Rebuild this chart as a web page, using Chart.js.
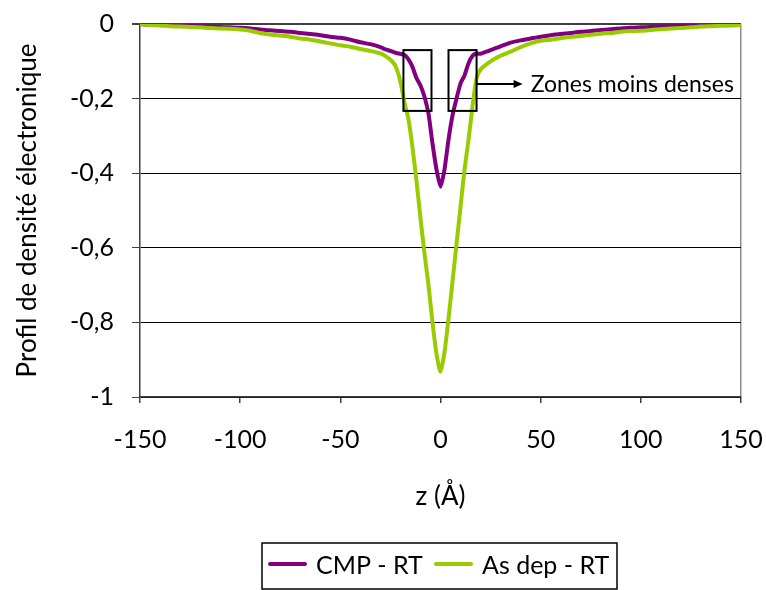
<!DOCTYPE html>
<html>
<head>
<meta charset="utf-8">
<script src="https://cdn.jsdelivr.net/npm/chart.js@4/dist/chart.umd.min.js"></script>
<style>
  html, body { margin: 0; padding: 0; background: #fff; }
  #wrap { width: 766px; height: 590px; }
</style>
</head>
<body>
<div id="wrap"><canvas id="chart" width="766" height="590"></canvas></div>
<script>
// z positions (Å)
const zValues = [
  -150, -145, -140, -135, -130, -125, -120, -115, -110, -105,
  -100, -95, -90, -85, -80, -75, -70, -65, -60, -55,
  -50, -45, -40, -35, -30, -27.5, -25, -22.5, -20, -18,
  -16, -14, -12, -10, -8, -6, -4, -2, 0, 2,
  4, 6, 8, 10, 12, 14, 16, 18, 20, 22.5,
  25, 27.5, 30, 35, 40, 45, 50, 55, 60, 65,
  70, 75, 80, 85, 90, 95, 100, 105, 110, 115,
  120, 125, 130, 135, 140, 145, 150
];

// CMP - RT
const cmpValues = [
  0, -0.002, -0.003, -0.003, -0.004, -0.005, -0.005, -0.007, -0.008, -0.009,
  -0.010, -0.012, -0.015, -0.017, -0.019, -0.021, -0.024, -0.027, -0.030, -0.034,
  -0.037, -0.042, -0.049, -0.054, -0.062, -0.068, -0.072, -0.077, -0.080, -0.083,
  -0.095, -0.115, -0.145, -0.165, -0.195, -0.240, -0.320, -0.390, -0.436, -0.390,
  -0.310, -0.245, -0.200, -0.159, -0.138, -0.105, -0.085, -0.079, -0.080, -0.075,
  -0.070, -0.065, -0.060, -0.050, -0.044, -0.039, -0.034, -0.030, -0.027, -0.024,
  -0.021, -0.019, -0.016, -0.014, -0.012, -0.010, -0.009, -0.008, -0.007, -0.006,
  -0.005, -0.004, -0.003, -0.003, -0.002, -0.002, -0.001
];

// As dep - RT
const asDepValues = [
  0, -0.003, -0.004, -0.006, -0.007, -0.008, -0.009, -0.011, -0.012, -0.013,
  -0.015, -0.018, -0.024, -0.028, -0.031, -0.034, -0.039, -0.042, -0.047, -0.052,
  -0.057, -0.061, -0.067, -0.072, -0.079, -0.086, -0.096, -0.112, -0.155, -0.210,
  -0.255, -0.330, -0.420, -0.520, -0.615, -0.700, -0.800, -0.885, -0.932, -0.880,
  -0.790, -0.690, -0.590, -0.490, -0.390, -0.310, -0.220, -0.145, -0.122, -0.110,
  -0.100, -0.092, -0.085, -0.074, -0.062, -0.052, -0.045, -0.042, -0.038, -0.035,
  -0.032, -0.029, -0.026, -0.024, -0.021, -0.019, -0.018, -0.016, -0.014, -0.012,
  -0.011, -0.009, -0.007, -0.006, -0.005, -0.004, -0.002
];

const seriesLabels = ['CMP - RT', 'As dep - RT'];
const xTickValues = [-150, -100, -50, 0, 50, 100, 150];
const xTickLabels = ['-150', '-100', '-50', '0', '50', '100', '150'];
const yTickValues = [0, -0.2, -0.4, -0.6, -0.8, -1];
const yTickLabels = ['0', '-0,2', '-0,4', '-0,6', '-0,8', '-1'];
const xTitle = 'z (Å)';
const yTitle = 'Profil de densité électronique';
const noteText = 'Zones moins denses';

const FONT = 'Lato, "Open Sans", sans-serif';
const purple = '#800080';
const green = '#99cc00';

// the two "less dense" boxes, in data units
const zoneBoxes = [
  { zMin: -18.5, zMax: -4.5, vTop: -0.07, vBottom: -0.233 },
  { zMin: 4, zMax: 18, vTop: -0.07, vBottom: -0.233 }
];
const arrowLevel = -0.161;
const arrowEndZ = 41;
const noteZ = 45;

function points(values) {
  return zValues.map((z, i) => ({ x: z, y: values[i] }));
}

const annotationPlugin = {
  id: 'zones',
  afterDatasetsDraw(chart) {
    const { ctx, scales: { x, y } } = chart;
    ctx.save();
    ctx.strokeStyle = '#000';
    ctx.lineWidth = 2;
    zoneBoxes.forEach(b => {
      const x0 = x.getPixelForValue(b.zMin);
      const x1 = x.getPixelForValue(b.zMax);
      const y0 = y.getPixelForValue(b.vTop);
      const y1 = y.getPixelForValue(b.vBottom);
      ctx.strokeRect(x0, y0, x1 - x0, y1 - y0);
    });
    const ay = y.getPixelForValue(arrowLevel);
    const ax0 = x.getPixelForValue(zoneBoxes[1].zMax);
    const ax1 = x.getPixelForValue(arrowEndZ);
    ctx.beginPath();
    ctx.moveTo(ax0, ay);
    ctx.lineTo(ax1 - 6, ay);
    ctx.stroke();
    ctx.fillStyle = '#000';
    ctx.beginPath();
    ctx.moveTo(ax1, ay);
    ctx.lineTo(ax1 - 9, ay - 4);
    ctx.lineTo(ax1 - 9, ay + 4);
    ctx.closePath();
    ctx.fill();
    ctx.font = '23px ' + FONT;
    ctx.textAlign = 'left';
    ctx.textBaseline = 'middle';
    ctx.fillText(noteText, x.getPixelForValue(noteZ), ay + 1);
    ctx.restore();
  }
};

const boxLegendPlugin = {
  id: 'boxLegend',
  afterDraw(chart) {
    const ctx = chart.ctx;
    const ds = chart.data.datasets;
    ctx.save();
    ctx.strokeStyle = '#000';
    ctx.lineWidth = 1.5;
    ctx.strokeRect(262, 543, 355, 46);
    ctx.font = '25px ' + FONT;
    ctx.textBaseline = 'middle';
    ctx.textAlign = 'left';
    const items = [
      { ds: ds[0], x: 270 },
      { ds: ds[1], x: 436 }
    ];
    items.forEach(it => {
      ctx.strokeStyle = it.ds.borderColor;
      ctx.lineWidth = 4;
      ctx.lineCap = 'round';
      ctx.beginPath();
      ctx.moveTo(it.x, 564);
      ctx.lineTo(it.x + 35, 564);
      ctx.stroke();
      ctx.fillStyle = '#000';
      ctx.fillText(it.ds.label, it.x + 46, 566);
    });
    ctx.restore();
  }
};

new Chart(document.getElementById('chart').getContext('2d'), {
  type: 'line',
  data: {
    datasets: [
      {
        label: seriesLabels[0],
        data: points(cmpValues),
        borderColor: purple,
        borderWidth: 4,
        pointRadius: 0,
        tension: 0.2,
        order: 1
      },
      {
        label: seriesLabels[1],
        data: points(asDepValues),
        borderColor: green,
        borderWidth: 4,
        pointRadius: 0,
        tension: 0.2,
        order: 0
      }
    ]
  },
  options: {
    responsive: false,
    devicePixelRatio: 1,
    animation: false,
    layout: { padding: { top: 24, right: 25, left: 0, bottom: 73 } },
    plugins: {
      legend: { display: false },
      tooltip: { enabled: false }
    },
    scales: {
      x: {
        type: 'linear',
        min: -150,
        max: 150,
        afterBuildTicks: s => { s.ticks = xTickValues.map(v => ({ value: v })); },
        afterFit: s => { s.height = 120; s.paddingLeft = 0; s.paddingRight = 0; },
        ticks: {
          font: { family: FONT, size: 25 },
          color: '#000',
          padding: 22,
          maxRotation: 0,
          callback: (v, i) => xTickLabels[i]
        },
        grid: {
          color: c => (c.tick && c.tick.value === 150 ? '#8c8c8c' : 'rgba(0,0,0,0)'),
          tickColor: '#404040',
          tickLength: 6,
          lineWidth: 1.5
        },
        border: { color: '#404040', width: 1.5 },
        title: {
          display: true,
          text: xTitle,
          font: { family: FONT, size: 26 },
          color: '#000',
          padding: { top: 0, bottom: 5 }
        }
      },
      y: {
        min: -1,
        max: 0,
        afterBuildTicks: s => { s.ticks = yTickValues.map(v => ({ value: v })); },
        afterFit: s => { s.width = 140; s.paddingTop = 0; s.paddingBottom = 0; },
        ticks: {
          font: { family: FONT, size: 25 },
          color: '#000',
          padding: 18,
          callback: (v, i) => yTickLabels[i]
        },
        grid: {
          color: c => (c.tick && c.tick.value === 0 ? '#404040' : '#000'),
          lineWidth: c => (c.tick && c.tick.value === 0 ? 2 : 1),
          tickColor: '#404040',
          tickLength: 8
        },
        border: { color: '#404040', width: 1.5 },
        title: {
          display: true,
          text: yTitle,
          font: { family: FONT, size: 26 },
          color: '#000',
          padding: { top: 12, bottom: 0 }
        }
      }
    }
  },
  plugins: [annotationPlugin, boxLegendPlugin]
});
</script>
</body>
</html>
